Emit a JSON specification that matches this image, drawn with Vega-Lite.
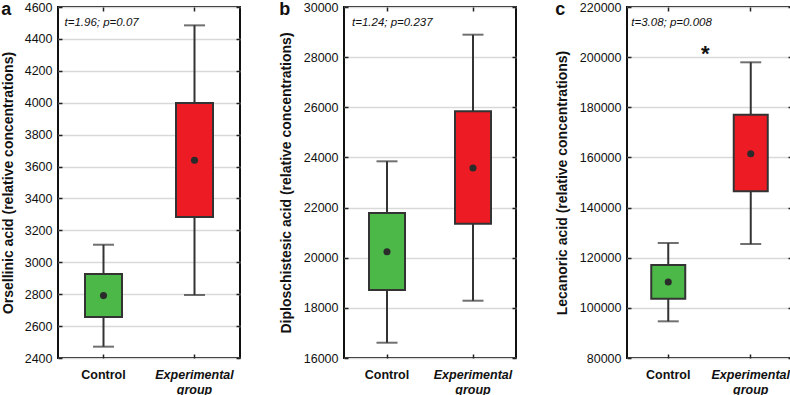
{
  "$schema": "https://vega.github.io/schema/vega-lite/v6.json",
  "padding": {"left": 0, "top": 0, "right": 0, "bottom": 0},
  "spacing": 36,
  "config": {
    "view": {"stroke": "#111", "strokeWidth": 2},
    "font": "Liberation Sans",
    "axis": {
      "labelFont": "Liberation Sans", "labelFontSize": 12.5, "labelColor": "#111",
      "titleFont": "Liberation Sans", "titleFontSize": 14, "titleFontWeight": "bold", "titleColor": "#111",
      "gridColor": "#d9d9d9", "gridWidth": 1.5, "domain": false, "tickColor": "#222", "tickWidth": 1.5
    }
  },
  "hconcat": [
    {
      "width": 182, "height": 351,
      "title": {"text": "a", "anchor": "start", "frame": "bounds", "fontSize": 18, "fontWeight": "bold", "font": "Liberation Sans", "offset": 0, "dy": 18, "color": "#111"},
      "data": {"values": [
        {"group": "Control", "lo": 2471, "q1": 2657, "mean": 2791, "q3": 2927, "hi": 3110},
        {"group": "Experimental group", "lo": 2795, "q1": 3284, "mean": 3639, "q3": 3998, "hi": 4485}
      ]},
      "layer": [
        {"mark": {"type": "rule", "color": "#333", "strokeWidth": 2},
         "encoding": {
           "x": {"field": "group", "type": "nominal", "scale": {"type": "band", "domain": ["Control", "Experimental group"], "paddingInner": 0, "paddingOuter": 0},
                 "axis": {"orient": "bottom", "title": null, "labelAngle": 0, "tickSize": -4, "labelPadding": 14, "labelFontWeight": "bold", "labelLineHeight": 15,
                          "labelExpr": "datum.value == 'Experimental group' ? ['Experimental', 'group'] : datum.label",
                          "labelFontStyle": {"condition": {"test": "datum.value == 'Experimental group'", "value": "italic"}, "value": "normal"}}},
           "y": {"field": "lo", "type": "quantitative", "scale": {"domain": [2400, 4600], "nice": false, "zero": false},
                 "axis": {"orient": "left", "format": "d", "title": "Orsellinic acid (relative concentrations)", "values": [2400, 2600, 2800, 3000, 3200, 3400, 3600, 3800, 4000, 4200, 4400, 4600], "tickSize": -4, "labelPadding": 10, "titlePadding": 9}},
           "y2": {"field": "hi"}}},
        {"mark": {"type": "tick", "color": "#333", "thickness": 2, "size": 21},
         "encoding": {
           "x": {"field": "group", "type": "nominal", "axis": {"orient": "top", "labels": false, "grid": false, "title": null, "tickSize": -4}},
           "y": {"field": "hi", "type": "quantitative", "axis": {"orient": "right", "labels": false, "grid": false, "title": null, "tickSize": -4, "values": [2400, 2600, 2800, 3000, 3200, 3400, 3600, 3800, 4000, 4200, 4400, 4600]}}}},
        {"mark": {"type": "tick", "color": "#333", "thickness": 2, "size": 21},
         "encoding": {"x": {"field": "group", "type": "nominal", "axis": null}, "y": {"field": "lo", "type": "quantitative", "axis": null}}},
        {"mark": {"type": "bar", "size": 37, "stroke": "#333", "strokeWidth": 2},
         "encoding": {
           "x": {"field": "group", "type": "nominal", "axis": null},
           "y": {"field": "q1", "type": "quantitative", "axis": null},
           "y2": {"field": "q3"},
           "color": {"field": "group", "type": "nominal", "scale": {"domain": ["Control", "Experimental group"], "range": ["#4cb848", "#ed1c24"]}, "legend": null}}},
        {"mark": {"type": "point", "filled": true, "color": "#2b2b2b", "size": 50, "opacity": 1},
         "encoding": {"x": {"field": "group", "type": "nominal", "axis": null}, "y": {"field": "mean", "type": "quantitative", "axis": null}}},
        {"data": {"values": [{"group": "Control", "y": 4500, "label": "t=1.96; p=0.07"}]},
         "mark": {"type": "text", "align": "left", "baseline": "middle", "dx": -39, "fontStyle": "italic", "fontSize": 11.5, "font": "Liberation Sans", "color": "#111"},
         "encoding": {"x": {"field": "group", "type": "nominal", "axis": null}, "y": {"field": "y", "type": "quantitative", "axis": null}, "text": {"field": "label"}}}
      ]
    },
    {
      "width": 172, "height": 351,
      "title": {"text": "b", "anchor": "start", "frame": "bounds", "fontSize": 18, "fontWeight": "bold", "font": "Liberation Sans", "offset": 0, "dy": 18, "color": "#111"},
      "data": {"values": [
        {"group": "Control", "lo": 16610, "q1": 18712, "mean": 20239, "q3": 21783, "hi": 23845},
        {"group": "Experimental group", "lo": 18285, "q1": 21356, "mean": 23578, "q3": 25838, "hi": 28896}
      ]},
      "layer": [
        {"mark": {"type": "rule", "color": "#333", "strokeWidth": 2},
         "encoding": {
           "x": {"field": "group", "type": "nominal", "scale": {"type": "band", "domain": ["Control", "Experimental group"], "paddingInner": 0, "paddingOuter": 0},
                 "axis": {"orient": "bottom", "title": null, "labelAngle": 0, "tickSize": -4, "labelPadding": 14, "labelFontWeight": "bold", "labelLineHeight": 15,
                          "labelExpr": "datum.value == 'Experimental group' ? ['Experimental', 'group'] : datum.label",
                          "labelFontStyle": {"condition": {"test": "datum.value == 'Experimental group'", "value": "italic"}, "value": "normal"}}},
           "y": {"field": "lo", "type": "quantitative", "scale": {"domain": [16000, 30000], "nice": false, "zero": false},
                 "axis": {"orient": "left", "format": "d", "title": "Diploschistesic acid (relative concentrations)", "values": [16000, 18000, 20000, 22000, 24000, 26000, 28000, 30000], "tickSize": -4, "labelPadding": 10, "titlePadding": 10}},
           "y2": {"field": "hi"}}},
        {"mark": {"type": "tick", "color": "#333", "thickness": 2, "size": 21},
         "encoding": {
           "x": {"field": "group", "type": "nominal", "axis": {"orient": "top", "labels": false, "grid": false, "title": null, "tickSize": -4}},
           "y": {"field": "hi", "type": "quantitative", "axis": {"orient": "right", "labels": false, "grid": false, "title": null, "tickSize": -4, "values": [16000, 18000, 20000, 22000, 24000, 26000, 28000, 30000]}}}},
        {"mark": {"type": "tick", "color": "#333", "thickness": 2, "size": 21},
         "encoding": {"x": {"field": "group", "type": "nominal", "axis": null}, "y": {"field": "lo", "type": "quantitative", "axis": null}}},
        {"mark": {"type": "bar", "size": 36, "stroke": "#333", "strokeWidth": 2},
         "encoding": {
           "x": {"field": "group", "type": "nominal", "axis": null},
           "y": {"field": "q1", "type": "quantitative", "axis": null},
           "y2": {"field": "q3"},
           "color": {"field": "group", "type": "nominal", "scale": {"domain": ["Control", "Experimental group"], "range": ["#4cb848", "#ed1c24"]}, "legend": null}}},
        {"mark": {"type": "point", "filled": true, "color": "#2b2b2b", "size": 50, "opacity": 1},
         "encoding": {"x": {"field": "group", "type": "nominal", "axis": null}, "y": {"field": "mean", "type": "quantitative", "axis": null}}},
        {"data": {"values": [{"group": "Control", "y": 29360, "label": "t=1.24; p=0.237"}]},
         "mark": {"type": "text", "align": "left", "baseline": "middle", "dx": -35, "fontStyle": "italic", "fontSize": 11.5, "font": "Liberation Sans", "color": "#111"},
         "encoding": {"x": {"field": "group", "type": "nominal", "axis": null}, "y": {"field": "y", "type": "quantitative", "axis": null}, "text": {"field": "label"}}}
      ]
    },
    {
      "width": 165, "height": 351,
      "title": {"text": "c", "anchor": "start", "frame": "bounds", "fontSize": 18, "fontWeight": "bold", "font": "Liberation Sans", "offset": 0, "dy": 18, "color": "#111"},
      "data": {"values": [
        {"group": "Control", "lo": 94631, "q1": 103646, "mean": 110307, "q3": 117088, "hi": 125864},
        {"group": "Experimental group", "lo": 125465, "q1": 146486, "mean": 161484, "q3": 177040, "hi": 197942}
      ]},
      "layer": [
        {"mark": {"type": "rule", "color": "#333", "strokeWidth": 2},
         "encoding": {
           "x": {"field": "group", "type": "nominal", "scale": {"type": "band", "domain": ["Control", "Experimental group"], "paddingInner": 0, "paddingOuter": 0},
                 "axis": {"orient": "bottom", "title": null, "labelAngle": 0, "tickSize": -4, "labelPadding": 14, "labelFontWeight": "bold", "labelLineHeight": 15,
                          "labelExpr": "datum.value == 'Experimental group' ? ['Experimental', 'group'] : datum.label",
                          "labelFontStyle": {"condition": {"test": "datum.value == 'Experimental group'", "value": "italic"}, "value": "normal"}}},
           "y": {"field": "lo", "type": "quantitative", "scale": {"domain": [80000, 220000], "nice": false, "zero": false},
                 "axis": {"orient": "left", "format": "d", "title": "Lecanoric  acid (relative concentrations)", "values": [80000, 100000, 120000, 140000, 160000, 180000, 200000, 220000], "tickSize": -4, "labelPadding": 10, "titlePadding": 10}},
           "y2": {"field": "hi"}}},
        {"mark": {"type": "tick", "color": "#333", "thickness": 2, "size": 21},
         "encoding": {
           "x": {"field": "group", "type": "nominal", "axis": {"orient": "top", "labels": false, "grid": false, "title": null, "tickSize": -4}},
           "y": {"field": "hi", "type": "quantitative", "axis": {"orient": "right", "labels": false, "grid": false, "title": null, "tickSize": -4, "values": [80000, 100000, 120000, 140000, 160000, 180000, 200000, 220000]}}}},
        {"mark": {"type": "tick", "color": "#333", "thickness": 2, "size": 21},
         "encoding": {"x": {"field": "group", "type": "nominal", "axis": null}, "y": {"field": "lo", "type": "quantitative", "axis": null}}},
        {"mark": {"type": "bar", "size": 34, "stroke": "#333", "strokeWidth": 2},
         "encoding": {
           "x": {"field": "group", "type": "nominal", "axis": null},
           "y": {"field": "q1", "type": "quantitative", "axis": null},
           "y2": {"field": "q3"},
           "color": {"field": "group", "type": "nominal", "scale": {"domain": ["Control", "Experimental group"], "range": ["#4cb848", "#ed1c24"]}, "legend": null}}},
        {"mark": {"type": "point", "filled": true, "color": "#2b2b2b", "size": 50, "opacity": 1},
         "encoding": {"x": {"field": "group", "type": "nominal", "axis": null}, "y": {"field": "mean", "type": "quantitative", "axis": null}}},
        {"data": {"values": [{"group": "Control", "y": 213600, "label": "t=3.08; p=0.008"}]},
         "mark": {"type": "text", "align": "left", "baseline": "middle", "dx": -37, "fontStyle": "italic", "fontSize": 11.5, "font": "Liberation Sans", "color": "#111"},
         "encoding": {"x": {"field": "group", "type": "nominal", "axis": null}, "y": {"field": "y", "type": "quantitative", "axis": null}, "text": {"field": "label"}}},
        {"data": {"values": [{"group": "Control", "y": 203000, "label": "*"}]},
         "mark": {"type": "text", "align": "center", "baseline": "middle", "dx": 37, "dy": 4, "fontWeight": "bold", "fontSize": 22, "font": "Liberation Sans", "color": "#111"},
         "encoding": {"x": {"field": "group", "type": "nominal", "axis": null}, "y": {"field": "y", "type": "quantitative", "axis": null}, "text": {"field": "label"}}}
      ]
    }
  ]
}
